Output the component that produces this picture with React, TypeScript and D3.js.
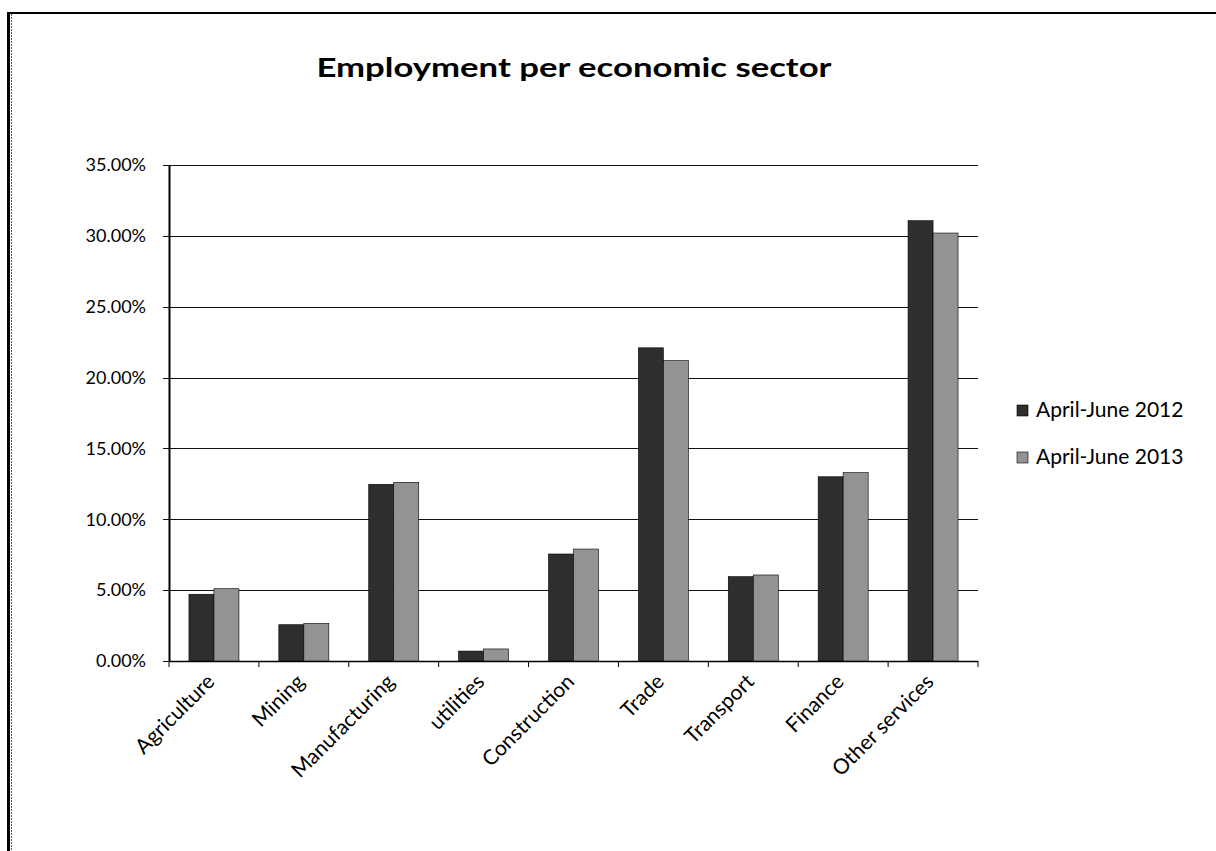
import React from "react";
import * as d3 from "d3";

const categories = ["Agriculture", "Mining", "Manufacturing", "utilities", "Construction", "Trade", "Transport", "Finance", "Other services"];
const series2012 = [4.71, 2.56, 12.47, 0.7, 7.55, 22.1, 5.95, 13.0, 31.07];
const series2013 = [5.1, 2.66, 12.61, 0.85, 7.9, 21.2, 6.07, 13.29, 30.2];
const seriesNames = ["April-June 2012", "April-June 2013"];
const yTicks = [0, 5, 10, 15, 20, 25, 30, 35];
const title = "Employment per economic sector";

const W = 1216, H = 851;
const FONT = "Lato, 'Open Sans', 'Liberation Sans', sans-serif";

export default function App() {
  const left = 169, right = 978, top = 165, bottom = 661;
  const x = d3.scaleBand<string>().domain(categories).range([left, right]).paddingInner(0).paddingOuter(0);
  const y = d3.scaleLinear().domain([0, 35]).range([bottom, top]);
  const barW = 25;
  const colors = ["#2e2e2e", "#939393"];
  const data = [series2012, series2013];
  const fmt = (v: number) => v.toFixed(2) + "%";

  return (
    <svg width={W} height={H} style={{ position: "absolute", left: 0, top: 0, background: "#fff" }} fontFamily={FONT}>
      <rect x={0} y={0} width={W} height={H} fill="#fff" />
      {/* frame */}
      <line x1={8.5} y1={12} x2={8.5} y2={H} stroke="#000" strokeWidth={3} />
      <line x1={11.5} y1={14} x2={11.5} y2={H} stroke="#555" strokeWidth={1} strokeDasharray="2 1" />
      <line x1={7} y1={13} x2={W} y2={13} stroke="#000" strokeWidth={2} />

      <text x={574} y={77} textAnchor="middle" fontSize={27} fontWeight="bold" fill="#000" textLength={515} lengthAdjust="spacingAndGlyphs">{title}</text>

      {/* gridlines */}
      {yTicks.map((t) => (
        <g key={t}>
          <line x1={left - 6} x2={right} y1={Math.round(y(t)) + 0.5} y2={Math.round(y(t)) + 0.5} stroke="#111" strokeWidth={1} />
          <text x={146} y={y(t)} dy="0.35em" textAnchor="end" fontSize={18} fill="#000">{fmt(t)}</text>
        </g>
      ))}
      {/* y axis */}
      <line x1={left + 0.5} x2={left + 0.5} y1={top} y2={bottom} stroke="#000" strokeWidth={2} />
      {/* x axis */}
      <line x1={left} x2={right} y1={bottom + 0.5} y2={bottom + 0.5} stroke="#000" strokeWidth={1.5} />
      {d3.range(categories.length + 1).map((i) => {
        const xx = left + i * x.step();
        return <line key={i} x1={xx} x2={xx} y1={bottom} y2={bottom + 6} stroke="#000" strokeWidth={1} />;
      })}

      {/* bars */}
      {categories.map((c, i) => {
        const cx = (x(c) as number) + x.bandwidth() / 2;
        return (
          <g key={c}>
            {data.map((s, k) => (
              <rect key={k} x={cx - barW + k * barW} y={y(s[i])} width={barW} height={bottom - y(s[i])} fill={colors[k]} stroke="#000" strokeWidth={0.6} />
            ))}
          </g>
        );
      })}

      {/* x labels */}
      {categories.map((c) => {
        const cx = (x(c) as number) + x.bandwidth() / 2 + 2;
        return (
          <text key={c} transform={`translate(${cx},${bottom + 22}) rotate(-45)`} textAnchor="end" fontSize={21} fill="#000">{c}</text>
        );
      })}

      {/* legend */}
      {seriesNames.map((n, k) => (
        <g key={n} transform={`translate(1017,${410 + k * 47})`}>
          <rect x={0} y={-5} width={11} height={11} fill={colors[k]} stroke="#000" strokeWidth={0.6} />
          <text x={19} y={0} dy="0.35em" fontSize={21} fill="#000">{n}</text>
        </g>
      ))}
    </svg>
  );
}
